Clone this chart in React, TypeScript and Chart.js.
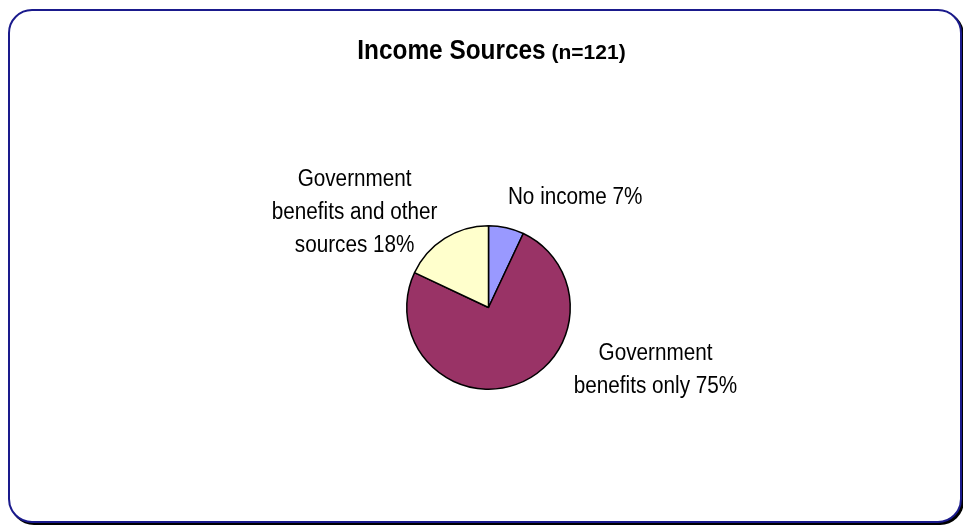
import React, { useEffect, useRef } from 'react';
import { Chart, registerables } from 'chart.js';

Chart.register(...registerables);

// ---- data ----
const categories = ['No income', 'Government benefits only', 'Government benefits and other sources'];
const percentages = [7, 75, 18];
const sliceColors = ['#9999FF', '#993366', '#FFFFCC'];
// category names as wrapped in the picture (percentage appended to the last line)
const wrappedCategories = [
  ['No income'],
  ['Government', 'benefits only'],
  ['Government', 'benefits and other', 'sources'],
];
const titleMain = 'Income Sources';
const titleSub = '(n=121)';

// label anchor (centre x, first baseline) relative to pie centre, in units of radius
const LABEL_ANCHORS = [
  [1.048, -1.252],
  [2.018, 0.639],
  [-1.618, -1.47],
];
const FONT = '"Liberation Sans", Arial, Helvetica, sans-serif';
const CONDENSE = 0.9;
const LINE_H = 33;

const drawCondensed = (ctx: CanvasRenderingContext2D, text: string, x: number, y: number, sx: number) => {
  ctx.save();
  ctx.translate(x, y);
  ctx.scale(sx, 1);
  ctx.fillText(text, 0, 0);
  ctx.restore();
};

const labelPlugin = {
  id: 'sliceLabels',
  afterDatasetsDraw(chart: any) {
    const meta = chart.getDatasetMeta(0);
    const ctx: CanvasRenderingContext2D = chart.ctx;
    ctx.save();
    ctx.fillStyle = '#000';
    ctx.font = `23px ${FONT}`;
    ctx.textAlign = 'center';
    ctx.textBaseline = 'alphabetic';
    meta.data.forEach((arc: any, i: number) => {
      const { x, y, outerRadius } = arc.getProps(['x', 'y', 'outerRadius'], true);
      const R = outerRadius + 1;
      const [fx, fy] = LABEL_ANCHORS[i];
      const lx = x + fx * R;
      const ly = y + fy * R;
      const lines = wrappedCategories[i].slice();
      lines[lines.length - 1] = `${lines[lines.length - 1]} ${percentages[i]}%`;
      lines.forEach((line, j) => drawCondensed(ctx, line, lx, ly + j * LINE_H, CONDENSE));
    });
    ctx.restore();
  },
};

const titlePlugin = {
  id: 'mixedTitle',
  afterDraw(chart: any) {
    const ctx: CanvasRenderingContext2D = chart.ctx;
    ctx.save();
    ctx.fillStyle = '#000';
    ctx.textBaseline = 'alphabetic';
    ctx.textAlign = 'left';
    const mainScale = 0.87;
    ctx.font = `bold 28px ${FONT}`;
    const w1 = ctx.measureText(titleMain).width * mainScale;
    ctx.font = `bold 21px ${FONT}`;
    const w2 = ctx.measureText(titleSub).width;
    const gap = 6;
    const total = w1 + gap + w2;
    const cx = chart.width / 2 + 10;
    const start = cx - total / 2;
    const baseline = 59;
    ctx.font = `bold 28px ${FONT}`;
    drawCondensed(ctx, titleMain, start, baseline, mainScale);
    ctx.font = `bold 21px ${FONT}`;
    ctx.fillText(titleSub, start + w1 + gap, baseline);
    ctx.restore();
  },
};

export default function App() {
  const canvasRef = useRef<HTMLCanvasElement | null>(null);

  useEffect(() => {
    if (!canvasRef.current) return;
    const chart = new Chart(canvasRef.current, {
      type: 'pie',
      data: {
        labels: categories,
        datasets: [
          {
            data: percentages,
            backgroundColor: sliceColors,
            borderColor: '#000000',
            borderWidth: 1.5,
          },
        ],
      },
      options: {
        animation: false,
        responsive: false,
        devicePixelRatio: 1,
        layout: { padding: { top: 225, bottom: 135, left: 14, right: 0 } },
        plugins: {
          legend: { display: false },
          tooltip: { enabled: false },
          title: { display: false },
        },
      },
      plugins: [labelPlugin, titlePlugin],
    });
    return () => chart.destroy();
  }, []);

  return (
    <div style={{ position: 'fixed', left: 0, top: 0, width: 963, height: 525, background: '#fff', overflow: 'hidden' }}>
      <div
        style={{
          position: 'absolute',
          left: 8,
          top: 9,
          width: 954,
          height: 514,
          boxSizing: 'border-box',
          border: '2px solid #1a1a8c',
          borderRadius: 24,
          boxShadow: '2px 2px 0 #000',
          background: '#fff',
        }}
      />
      <canvas ref={canvasRef} width={963} height={525} style={{ position: 'absolute', left: 0, top: 0 }} />
    </div>
  );
}
